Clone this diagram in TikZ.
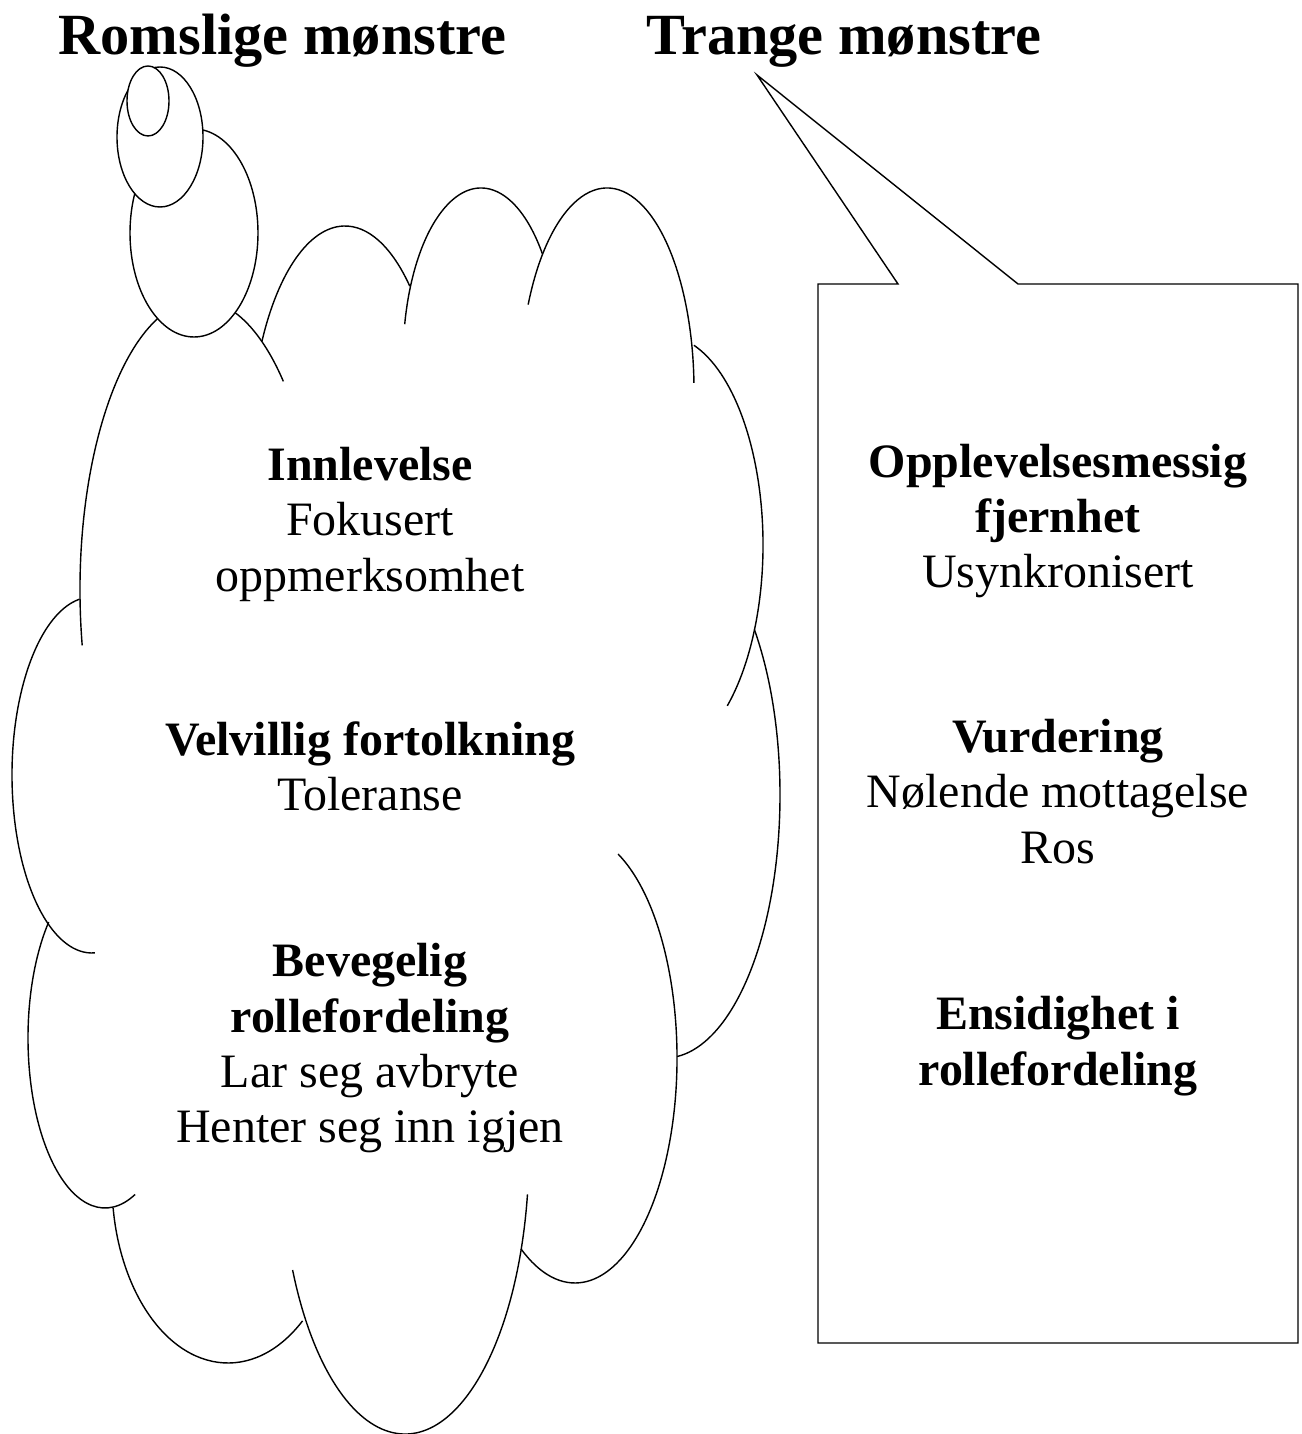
\documentclass[tikz,border=0pt]{standalone}
\usepackage{fontspec}
\setmainfont{Liberation Serif}
\usepackage{tikz}
\usetikzlibrary{positioning, calc}

\begin{document}
\begin{tikzpicture}[x=0.02cm, y=0.02cm]
        % Define styles
        \tikzstyle{heading} = [inner sep=0pt, anchor=base, font=\fontsize{33.2}{38}\selectfont\bfseries]
        \tikzstyle{itemtext} = [inner sep=0pt, align=center, font=\fontsize{27.3}{31.5}\selectfont]
        \tikzstyle{outline} = [line width=0.8pt]
        \tikzstyle{bubble} = [outline, fill=white]

        \useasboundingbox (0,0) rectangle (1302,1434);

        % Headings
        \node (roomy) [heading] at (282.5,1379.5) {Romslige mønstre};
        \node (narrow) [heading] at (844,1379.5) {Trange mønstre};

        % Cloud: one arc per puff, clockwise from the upper left
        \draw [outline] ([shift={(191:120 and 290)}]200,844) arc[start angle=191, end angle=46, x radius=120, y radius=290];
        \draw [outline] ([shift={(151:95 and 224)}]345,984) arc[start angle=151, end angle=47, x radius=95, y radius=224];
        \draw [outline] ([shift={(168:78 and 172)}]481,1074) arc[start angle=168, end angle=38, x radius=78, y radius=172];
        \draw [outline] ([shift={(155:87 and 202)}]607,1044) arc[start angle=155, end angle=2, x radius=87, y radius=202];
        \draw [outline] ([shift={(72:100 and 210)}]663,889) arc[start angle=72, end angle=-50, x radius=100, y radius=210];
        \draw [outline] ([shift={(39:115 and 263)}]665,639) arc[start angle=39, end angle=-84, x radius=115, y radius=263];
        \draw [outline] ([shift={(65:102 and 225)}]575,376) arc[start angle=65, end angle=-122, x radius=102, y radius=225];
        \draw [outline] ([shift={(-9:124 and 284)}]405,284) arc[start angle=-9, end angle=-155, x radius=124, y radius=284];
        \draw [outline] ([shift={(-50:116 and 180)}]228,251) arc[start angle=-50, end angle=-172, x radius=116, y radius=180];
        \draw [outline] ([shift={(137:77 and 170)}]105,396) arc[start angle=137, end angle=293, x radius=77, y radius=170];
        \draw [outline] ([shift={(99:80 and 178)}]92,659) arc[start angle=99, end angle=272, x radius=80, y radius=178];

        % Thought bubbles
        \draw [bubble] (194,1201) ellipse [x radius=64, y radius=104];
        \draw [bubble] (160,1297) ellipse [x radius=43, y radius=70];
        \draw [bubble] (148,1333) ellipse [x radius=21, y radius=35];

        % Cloud text
        \node (innlevelse) [itemtext] at (370,909.6) {\textbf{Innlevelse}\\Fokusert\\oppmerksomhet};
        \node (velvillig) [itemtext] at (370,667.5) {\textbf{Velvillig fortolkning}\\Toleranse};
        \node (bevegelig) [itemtext] at (370,385.6) {\textbf{Bevegelig}\\\textbf{rollefordeling}\\Lar seg avbryte\\Henter seg inn igjen};

        % Speech box with pointer
        \coordinate (tip) at (757,1359);
        \coordinate (boxnw) at (818,1150);
        \coordinate (boxse) at (1298,91);
        \draw [outline] (boxnw) -- (898,1150) -- (tip) -- (1018,1150) -- (boxse |- boxnw) -- (boxse) -- (boxnw |- boxse) -- cycle;

        % Box text
        \node (fjernhet) [itemtext] at (1058,913.1) {\textbf{Opplevelsesmessig}\\\textbf{fjernhet}\\Usynkronisert};
        \node (vurdering) [itemtext] at (1058,642.5) {\textbf{Vurdering}\\Nølende mottagelse\\Ros};
        \node (ensidighet) [itemtext] at (1058,388) {\textbf{Ensidighet i}\\\textbf{rollefordeling}};
\end{tikzpicture}
\end{document}
